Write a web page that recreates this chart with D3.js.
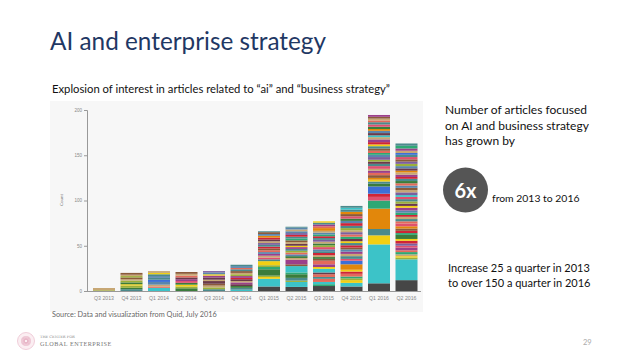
<!DOCTYPE html>
<html>
<head>
<meta charset="utf-8">
<script src="https://cdn.jsdelivr.net/npm/d3@7"></script>
<style>
  body { margin: 0; background: #fff; }
  svg { display: block; font-family: Lato, "Open Sans", sans-serif; }
</style>
</head>
<body>
<div id="slide"></div>
<script>
// quarters on the x axis
var quarters = ["Q3 2013", "Q4 2013", "Q1 2014", "Q2 2014", "Q3 2014", "Q4 2014",
                "Q1 2015", "Q2 2015", "Q3 2015", "Q4 2015", "Q1 2016", "Q2 2016"];

// stacked segment sizes per quarter, bottom to top (article counts)
var stackValues = [
  [0.8, 2.5],
  [2, 1.5, 2.5, 1.5, 2, 2, 1.5, 2, 1.5, 1.5, 2],
  [3.5, 1.5, 2, 3, 2.5, 2, 2, 2, 1.5, 2],
  [3, 2, 2, 2, 2, 2, 2, 2, 2, 2],
  [2, 2, 2, 2, 3, 1.5, 2.5, 2, 1.5, 2, 1.5],
  [1.5, 2, 2, 2, 2, 1.5, 2, 1.5, 2, 2, 1.5, 2, 2, 1.5, 2, 1.5],
  [5, 8.5, 2, 1.5, 7, 2.5, 2, 4.5, 2, 2, 2, 2, 2, 2, 2, 2, 2, 2, 2, 2, 2, 2, 2, 2, 1],
  [4.5, 5.5, 1.5, 3, 4, 2, 7, 2, 5, 2, 2, 2, 2, 2, 2, 2, 1.5, 2, 2, 2, 2, 2, 2, 2, 2, 2, 2, 1],
  [5.5, 2, 2.5, 3.5, 2, 3, 2, 4, 2, 3, 4, 2, 2, 2, 2.5, 2, 2, 2.5, 2, 2, 2, 2, 2, 2, 2, 2, 2, 3, 2, 2, 2, 1.5],
  [5, 4, 3, 2, 2, 3, 2.5, 2, 6, 4, 2, 3, 2.5, 2.5, 2.5, 2, 2.5, 2.5, 2, 2.5, 2.5, 2.5, 2.5, 2, 2.5, 2.5, 3, 2.5, 2.5, 2.5, 2.5, 2.5, 2.5, 2, 2],
  [8.5, 43, 10, 7, 22.5, 9, 4, 3.5, 8, 3, 2.5, 2, 2, 3, 2.5, 2.5, 2, 3, 2.5, 2.5, 2, 3, 2.5, 2, 2.5, 2.5, 2.5, 2, 2.5, 3, 2.5, 2, 2.5, 2.5, 2, 2.5, 2.5, 2.5, 2, 2, 2, 2],
  [12, 23, 2, 1.5, 2, 2.5, 2, 3, 2, 2.5, 3, 2, 4.5, 2, 2.5, 2.5, 2.5, 3, 2.5, 2.5, 2.5, 2, 2.5, 2.5, 3, 2, 2.5, 2.5, 2.5, 2.5, 2, 3, 2.5, 2.5, 2.5, 2.5, 2.5, 2.5, 2, 2.5, 2.5, 2, 2.5, 2.5, 2.5, 2.5, 2.5, 2.5, 2.5, 2, 2.5, 2.5, 3, 2.5]
];

// colour key of each segment (one letter per segment, same order as above)
var stackColors = [
  "la",
  "sGlyGlanlan",
  "tcaebsesya",
  "GlyGpmdcan",
  "slandadmyev",
  "tsGdmadrmlanscesm",
  "ktylGglyspamecnrsvadroens",
  "ktlsGgtnmaGeclsmydangsrveaes",
  "kgtcscdtymcnGarseplGavsrgeaocmsy",
  "ktylgcryobpsamenrsydgcvalsreGpnosts",
  "ktysogprbGsyoncmapsdlvegcnsyrmatdeoGpscanm",
  "ktlyagcmpvryGgrnopcsargemydlsptvanecGsrmaodelvnpsbamgs"
];

var palette = {
  k: "#464646", t: "#3cc3c8", y: "#f2cf13", o: "#e2870b", g: "#2ea874",
  G: "#3b7c3b", b: "#3d6fd6", r: "#cf2436", p: "#e0506e", m: "#9b3f8a",
  n: "#8b5a3a", s: "#4b8a8c", l: "#9bb03a", c: "#e46a5a", v: "#7c5f9e",
  a: "#c7a774", d: "#6b3a4a", e: "#5a86ad"
};

var yTicks = [0, 50, 100, 150, 200];

var width = 638, height = 359;

var svg = d3.select("#slide").append("svg")
    .attr("width", width)
    .attr("height", height);

// title and subtitle
svg.append("text")
    .attr("x", 50).attr("y", 50)
    .attr("font-size", 25.5)
    .attr("textLength", 276)
    .attr("lengthAdjust", "spacingAndGlyphs")
    .attr("fill", "#1f3864")
    .text("AI and enterprise strategy");

svg.append("text")
    .attr("x", 52).attr("y", 93)
    .attr("font-size", 11)
    .attr("textLength", 338)
    .attr("lengthAdjust", "spacingAndGlyphs")
    .attr("fill", "#111")
    .text("Explosion of interest in articles related to \u201cai\u201d and \u201cbusiness strategy\u201d");

// chart panel
svg.append("rect")
    .attr("x", 50).attr("y", 101)
    .attr("width", 373).attr("height", 211)
    .attr("fill", "#f7f7f7");

var xScale = d3.scaleBand()
    .domain(quarters)
    .range([90.25, 420.25])
    .paddingInner(0.2)
    .paddingOuter(0.1);

var yScale = d3.scaleLinear()
    .domain([0, 200])
    .range([291, 110]);

// stacks: build [y0, y1] for each segment
var stacks = quarters.map(function (q, i) {
    var acc = 0;
    return stackValues[i].map(function (v, j) {
        var seg = { quarter: q, y0: acc, y1: acc + v, key: stackColors[i][j] };
        acc += v;
        return seg;
    });
});

var bars = svg.append("g").selectAll("g")
    .data(stacks)
    .enter().append("g");

bars.selectAll("rect")
    .data(function (d) { return d; })
    .enter().append("rect")
    .attr("x", function (d) { return xScale(d.quarter); })
    .attr("width", xScale.bandwidth())
    .attr("y", function (d) { return yScale(d.y1); })
    .attr("height", function (d) { return yScale(d.y0) - yScale(d.y1); })
    .attr("fill", function (d) { return palette[d.key]; });

// axes
var yAxis = svg.append("g")
    .attr("transform", "translate(87,0)")
    .call(d3.axisLeft(yScale).tickValues(yTicks).tickSize(3).tickPadding(2));
yAxis.select(".domain").attr("stroke", "#999");
yAxis.selectAll(".tick line").attr("stroke", "#999");
yAxis.selectAll("text").attr("font-size", 4.5).attr("fill", "#888");

var xAxis = svg.append("g")
    .attr("transform", "translate(0,291)")
    .call(d3.axisBottom(xScale).tickSize(0).tickPadding(5));
xAxis.select(".domain").attr("stroke", "#999").attr("d", "M87,0.5H421");
xAxis.selectAll("text").attr("font-size", 5.2).attr("fill", "#888");

svg.append("text")
    .attr("transform", "translate(63,200) rotate(-90)")
    .attr("text-anchor", "middle")
    .attr("font-size", 4.5)
    .attr("fill", "#777")
    .text("Count");

svg.append("text")
    .attr("x", 52).attr("y", 317)
    .attr("font-size", 7.3)
    .attr("fill", "#666")
    .text("Source: Data and visualization from Quid, July 2016");

// right side notes
var note = svg.append("text")
    .attr("font-size", 12)
    .attr("fill", "#111");
["Number of articles focused", "on AI and business strategy", "has grown by"].forEach(function (s, i) {
    note.append("tspan").attr("x", 445).attr("y", 114 + i * 15.5).text(s);
});

svg.append("circle")
    .attr("cx", 465.5).attr("cy", 190).attr("r", 22.5)
    .attr("fill", "#555");
svg.append("text")
    .attr("x", 465.5).attr("y", 197.5)
    .attr("text-anchor", "middle")
    .attr("font-size", 20).attr("font-weight", "bold")
    .attr("fill", "#fff")
    .text("6x");
svg.append("text")
    .attr("x", 492).attr("y", 202)
    .attr("font-size", 10.4)
    .attr("fill", "#111")
    .text("from 2013 to 2016");

var note2 = svg.append("text")
    .attr("font-size", 11)
    .attr("fill", "#111");
["Increase 25 a quarter in 2013", "to over 150 a quarter in 2016"].forEach(function (s, i) {
    note2.append("tspan").attr("x", 448).attr("y", 272 + i * 15).text(s);
});

svg.append("text")
    .attr("x", 583).attr("y", 345)
    .attr("font-size", 7.5)
    .attr("fill", "#aaa")
    .text("29");

// footer logo
var logo = svg.append("g").attr("transform", "translate(26,341)");
logo.append("circle").attr("r", 8.5).attr("fill", "#fbeef2").attr("stroke", "#ecc3d1").attr("stroke-width", 0.8);
d3.range(8).forEach(function (i) {
    logo.append("ellipse")
        .attr("rx", 1.6).attr("ry", 5)
        .attr("transform", "rotate(" + (i * 22.5) + ")")
        .attr("fill", "none").attr("stroke", "#e7b3c5").attr("stroke-width", 0.5);
});
svg.append("text")
    .attr("x", 40).attr("y", 338)
    .attr("font-size", 3.6)
    .attr("font-family", "'DejaVu Serif', serif")
    .attr("fill", "#888")
    .text("THE CENTER FOR");
svg.append("text")
    .attr("x", 40).attr("y", 346)
    .attr("font-size", 6.2)
    .attr("font-family", "'Liberation Serif', serif")
    .attr("letter-spacing", 0.5)
    .attr("fill", "#777")
    .text("GLOBAL ENTERPRISE");
</script>
</body>
</html>
